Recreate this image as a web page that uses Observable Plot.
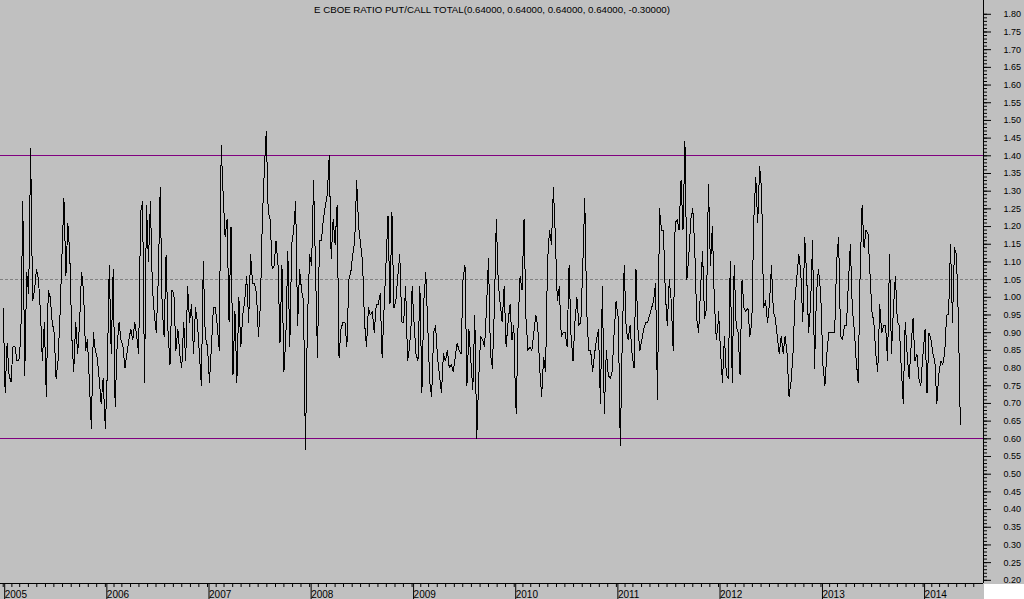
<!DOCTYPE html>
<html><head><meta charset="utf-8">
<script src="https://cdn.jsdelivr.net/npm/d3@7"></script>
<script src="https://cdn.jsdelivr.net/npm/@observablehq/plot@0.6"></script>
<style>
html,body{margin:0;padding:0;background:#fff;}
#wrap{position:relative;width:1024px;height:599px;overflow:hidden;}
#corner{position:absolute;left:984px;top:584px;width:40px;height:15px;background:#fff;}
</style></head>
<body><div id="wrap"><div id="chart"></div><div id="corner"></div></div>
<script>
const title = "E CBOE RATIO PUT/CALL TOTAL(0.64000, 0.64000, 0.64000, 0.64000, -0.30000)";

// weekly put/call ratio values, one array per year (week 0 = Jan 1)
const r2005 = [0.97,0.73,0.87,0.78,0.76,0.86,0.86,0.82,0.82,0.89,1.27,0.78,1.07,1.01,1.42,0.99,1.02,1.08,1.05,0.96,0.82,0.93,0.72,1.02,1.00,0.93,0.90,0.77,0.82,0.95,1.12,1.28,1.06,1.21,1.12,0.89,0.79,0.93,0.84,0.93,1.07,1.02,0.85,0.88,0.76,0.63,0.90,0.85,0.83,0.77,0.70,0.77];
const r2006 = [0.63,0.79,1.09,0.84,1.08,0.69,0.86,0.93,0.88,0.86,0.80,0.84,0.88,0.91,0.88,0.93,0.89,0.84,1.24,1.27,0.76,1.26,1.10,1.27,1.03,0.95,0.90,1.05,1.31,0.97,0.89,1.12,0.90,0.81,1.02,1.01,0.85,0.91,0.84,0.80,0.93,0.82,1.03,0.93,0.98,0.84,0.97,0.93,0.84,0.75,1.10,0.89];
const r2007 = [0.86,0.76,0.86,0.97,0.97,0.92,0.85,1.43,1.29,1.17,1.22,0.93,1.20,0.78,0.96,0.76,1.00,0.86,0.95,0.99,1.06,0.93,1.12,1.04,1.04,1.01,0.89,0.98,1.22,1.36,1.47,1.24,1.22,1.08,1.09,1.16,1.09,0.87,1.09,0.79,0.89,1.13,0.86,1.15,1.19,1.27,0.92,1.08,1.02,0.99,0.57,0.93];
const r2008 = [1.12,1.09,1.33,1.08,0.83,1.16,1.16,1.22,1.26,1.29,1.40,1.11,1.22,1.15,1.26,0.83,0.91,0.93,0.93,0.86,1.05,1.07,1.12,1.16,1.33,1.20,1.15,1.10,0.93,0.86,0.97,0.95,0.96,0.90,0.98,0.98,1.01,0.83,0.97,1.10,1.23,0.98,1.24,0.97,0.99,1.06,1.12,0.93,0.93,1.03,0.82,0.86,0.94];
const r2009 = [1.03,0.93,0.84,0.82,1.03,0.73,0.99,1.07,0.92,0.76,0.72,0.90,0.92,0.83,0.78,0.73,0.84,0.82,0.85,0.80,0.81,0.79,0.83,0.87,0.85,0.84,1.05,1.09,0.75,0.91,0.82,0.74,0.95,0.60,0.77,0.89,0.88,0.86,0.97,1.11,0.84,0.80,0.97,1.22,1.04,0.98,0.93,1.03,0.86,0.93,0.98,0.88,0.92];
const r2010 = [0.84,0.67,0.93,1.06,1.02,1.22,0.94,0.85,0.86,0.85,0.90,0.95,0.92,0.80,0.72,0.83,0.79,1.10,1.19,1.15,1.31,1.17,0.99,1.03,0.89,0.90,0.90,0.86,1.09,0.89,0.82,0.93,1.00,0.92,0.93,1.09,1.28,0.96,0.85,0.85,0.79,0.84,0.88,0.91,0.70,1.03,0.67,0.85,0.78,0.77,0.79,0.90,0.99];
const r2011 = [0.98,0.94,0.58,0.88,1.09,0.91,0.88,0.92,0.84,0.80,1.08,0.91,0.85,0.88,0.91,0.93,0.93,0.95,0.97,0.99,1.04,0.71,1.25,1.19,1.19,1.01,0.92,1.05,0.99,0.85,1.21,1.22,1.19,1.33,1.19,1.44,1.05,1.12,1.22,1.25,1.14,0.94,0.90,1.03,1.13,0.94,0.97,1.32,1.09,1.20,0.99,0.88,0.93];
const r2012 = [0.96,0.85,0.76,0.89,0.78,0.77,1.10,0.76,1.09,0.92,0.90,0.78,1.05,0.97,0.96,0.97,0.89,0.93,1.22,1.34,1.21,1.37,1.30,0.97,0.99,0.93,0.98,1.09,0.96,0.94,0.89,0.84,0.89,0.84,0.89,0.84,0.72,0.76,0.84,0.99,1.06,1.12,1.07,0.93,1.17,1.06,0.90,0.98,1.16,0.80,1.01,1.08,1.02];
const r2013 = [0.99,0.81,0.75,0.84,0.90,0.90,0.90,0.90,1.10,1.17,0.89,0.88,0.92,0.92,1.04,1.15,0.97,0.91,0.82,0.76,1.07,1.26,1.14,1.19,1.18,1.07,0.96,0.93,0.84,0.79,0.98,0.90,0.92,0.92,0.82,1.12,0.84,0.97,1.06,0.93,0.92,0.80,0.70,0.93,0.84,0.77,0.86,0.94,0.82,0.84,0.77,0.75,0.84];
const r2014 = [0.84,0.91,0.73,0.90,0.88,0.84,0.82,0.70,0.78,0.82,0.81,0.84,0.95,0.95,1.15,0.93,1.14,1.12,0.94,0.64];

const upperLevel = 1.40;
const middleLevel = 1.05;
const lowerLevel = 0.60;

const yearTicks = [2005, 2006, 2007, 2008, 2009, 2010, 2011, 2012, 2013, 2014];
const yTicks = [1.80,1.75,1.70,1.65,1.60,1.55,1.50,1.45,1.40,1.35,1.30,1.25,1.20,1.15,1.10,1.05,1.00,0.95,0.90,0.85,0.80,0.75,0.70,0.65,0.60,0.55,0.50,0.45,0.40,0.35,0.30,0.25,0.20];

const byYear = [[2005, r2005],[2006, r2006],[2007, r2007],[2008, r2008],[2009, r2009],[2010, r2010],[2011, r2011],[2012, r2012],[2013, r2013],[2014, r2014]];
const data = byYear.flatMap(([yr, vals]) => vals.map((v, i) => ({date: new Date(Date.UTC(yr, 0, 1 + 7 * i)), value: v})));

const xStart = new Date(Date.UTC(2004, 11, 22, 8));
const xEnd = new Date(Date.UTC(2014, 7, 4, 19));
const yMin = 0.191, yMax = 1.839;

const yMinor = d3.range(20, 181).map(i => i / 100);
const monthTicks = d3.utcMonth.range(new Date(Date.UTC(2005, 0, 1)), new Date(Date.UTC(2014, 6, 2)));
const yearDates = yearTicks.map(y => new Date(Date.UTC(y, 0, 1)));

const chart = Plot.plot({
  width: 1024,
  height: 599,
  marginLeft: 0,
  marginRight: 41,
  marginTop: 0,
  marginBottom: 16,
  x: {type: "utc", domain: [xStart, xEnd], label: null},
  y: {domain: [yMin, yMax], label: null},
  style: {background: "#c0c0c0", color: "black", fontFamily: "'Liberation Sans', Arial, sans-serif", fontSize: "9px", overflow: "visible"},
  marks: [
    Plot.ruleY([upperLevel], {stroke: "#800080", strokeWidth: 1, shapeRendering: "crispEdges"}),
    Plot.ruleY([lowerLevel], {stroke: "#800080", strokeWidth: 1, shapeRendering: "crispEdges"}),
    Plot.ruleY([middleLevel], {stroke: "#808080", strokeWidth: 1, strokeDasharray: "3,2", shapeRendering: "crispEdges"}),
    Plot.lineY(data, {x: "date", y: "value", stroke: "black", strokeWidth: 1, curve: "linear", shapeRendering: "crispEdges"}),
    Plot.ruleX([xEnd], {stroke: "black", shapeRendering: "crispEdges"}),
    Plot.ruleY([yMin], {stroke: "black", shapeRendering: "crispEdges"}),
    Plot.axisY({anchor: "right", ticks: yMinor, tickSize: 3, tickFormat: () => "", label: null}),
    Plot.axisY({anchor: "right", ticks: yTicks, tickSize: 7, tickPadding: 13, tickFormat: d => d.toFixed(2), fontSize: 9, label: null}),
    Plot.axisX({anchor: "bottom", ticks: monthTicks, tickSize: 4, tickFormat: () => "", label: null}),
    Plot.axisX({anchor: "bottom", ticks: yearDates, tickSize: 16, tickPadding: -4.5, tickFormat: d => String(d.getUTCFullYear()), textAnchor: "start", lineAnchor: "middle", dx: 1.5, fontSize: 10, label: null}),
    Plot.text([title], {text: d => d, frameAnchor: "top", dy: 9, lineAnchor: "middle", fontSize: 9.7, fill: "black"})
  ]
});
document.getElementById("chart").appendChild(chart);
</script>
</body></html>
